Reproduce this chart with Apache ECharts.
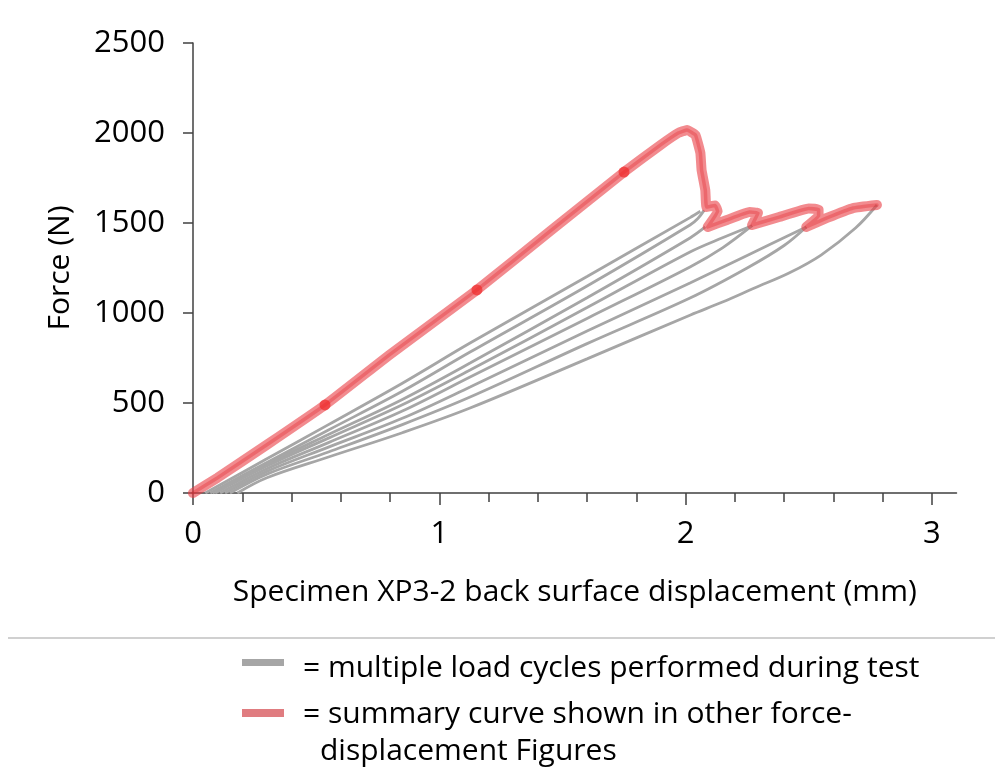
<!DOCTYPE html>
<html>
<head>
<meta charset="utf-8">
<script src="https://cdn.jsdelivr.net/npm/echarts@6/dist/echarts.min.js"></script>
<style>html,body{margin:0;padding:0;background:#fff;}#c{width:995px;height:770px;}</style>
</head>
<body>
<div id="c"></div>
<script>
// ---- data ----
const xTicks = [0, 1, 2, 3];
const yTicks = [0, 500, 1000, 1500, 2000, 2500];
const summaryCurve = [[0,0],[0.1,85],[0.3,268],[0.536,489],[0.8,770],[1.153,1128],[1.45,1455],[1.75,1783],[1.9,1935],[1.97,2000],[2.006,2017],[2.04,1989],[2.06,1889],[2.065,1794],[2.08,1683],[2.085,1589],[2.12,1597],[2.13,1565],[2.09,1478],[2.168,1517],[2.26,1561],[2.294,1555],[2.27,1489],[2.38,1533],[2.5,1580],[2.54,1575],[2.54,1540],[2.49,1478],[2.574,1528],[2.68,1583],[2.777,1600]];
const summaryDots = [[0.536,489],[1.153,1128],[1.75,1783]];
const cycle1 = [[0.05,0],[0.3,190],[0.55,380],[0.85,610],[1.125,833],[1.6,1203],[2.018,1530],[2.06,1565]];
const cycle2 = [[0.07,0],[0.3,170],[0.55,350],[0.85,565],[1.125,783],[1.6,1150],[2.018,1489],[2.05,1525],[2.075,1570]];
const cycle3 = [[0.08,0],[0.3,160],[0.55,325],[0.85,520],[1.125,722],[1.6,1085],[2.018,1417],[2.08,1478]];
const cycle4 = [[0.09,0],[0.3,150],[0.55,305],[0.85,490],[1.125,683],[1.6,1030],[2.018,1339],[2.15,1418],[2.27,1485]];
const cycle5 = [[0.11,0],[0.3,135],[0.55,280],[0.85,455],[1.125,644],[1.6,970],[2.018,1256],[2.15,1362],[2.27,1485]];
const cycle6 = [[0.13,0],[0.3,120],[0.55,255],[0.85,415],[1.125,589],[1.6,900],[2.018,1167],[2.25,1320],[2.49,1478]];
const cycle7 = [[0.15,0],[0.3,105],[0.55,228],[0.85,380],[1.125,533],[1.6,830],[2.018,1083],[2.25,1250],[2.4,1375],[2.49,1478]];
const cycle8 = [[0.18,0],[0.3,85],[0.55,200],[0.85,335],[1.125,472],[1.6,745],[2.02,989],[2.15,1061],[2.28,1139],[2.42,1222],[2.55,1322],[2.69,1472],[2.777,1600]];
const cycles = [cycle1, cycle2, cycle3, cycle4, cycle5, cycle6, cycle7, cycle8];
const xTitle = 'Specimen XP3-2 back surface displacement (mm)';
const yTitle = 'Force (N)';
const legendGray = '= multiple load cycles performed during test';
const legendRed1 = '= summary curve shown in other force-';
const legendRed2 = 'displacement Figures';

// ---- chart ----
const FONT = '"Open Sans", sans-serif';
const chart = echarts.init(document.getElementById('c'), null, {renderer: 'canvas'});
const series = cycles.map(c => ({
  type: 'line', data: c, smooth: 0.35, symbol: 'none',
  lineStyle: {color: '#a6a6a6', width: 2.8}, z: 2, silent: true
}));
series.push({
  type: 'line', data: summaryCurve, symbol: 'none', smooth: 0.1,
  lineStyle: {color: 'rgba(234,62,68,0.6)', width: 10, cap: 'round', join: 'round'}, z: 3, silent: true
});
series.push({
  type: 'line', data: summaryCurve, symbol: 'none', smooth: 0.1,
  lineStyle: {color: 'rgba(226,40,46,0.35)', width: 3.5, cap: 'round', join: 'round'}, z: 4, silent: true
});
series.push({
  type: 'scatter', data: summaryDots, symbolSize: 11,
  itemStyle: {color: 'rgba(240,40,40,0.85)'}, z: 5, silent: true
});

chart.setOption({
  animation: false,
  backgroundColor: '#fff',
  grid: {left: 193, top: 43, right: 38.5, bottom: 277, containLabel: false},
  xAxis: {
    type: 'value', min: 0, max: 3.1, interval: 1,
    axisLine: {lineStyle: {color: '#404040', width: 1.5}},
    axisTick: {show: true, length: 12, lineStyle: {color: '#404040', width: 1.5},
      customValues: xTicks},
    minorTick: {show: true, splitNumber: 5, length: 9, lineStyle: {color: '#404040', width: 1.5}},
    splitLine: {show: false},
    axisLabel: {fontFamily: FONT, fontSize: 31, color: '#000', margin: 26,
      customValues: xTicks, formatter: v => String(v)},
    name: xTitle, nameLocation: 'middle', nameGap: 84,
    nameTextStyle: {fontFamily: FONT, fontSize: 30, color: '#000'}
  },
  yAxis: {
    type: 'value', min: 0, max: 2500, interval: 500,
    axisLine: {show: true, lineStyle: {color: '#404040', width: 1.5}},
    axisTick: {show: true, length: 10, lineStyle: {color: '#404040', width: 1.5}},
    splitLine: {show: false},
    axisLabel: {fontFamily: FONT, fontSize: 31, color: '#000', margin: 28,
      customValues: yTicks, formatter: v => String(v)},
    name: yTitle, nameLocation: 'middle', nameGap: 118,
    nameTextStyle: {fontFamily: FONT, fontSize: 30, color: '#000'}
  },
  series: series,
  graphic: [
    {type: 'line', shape: {x1: 8, y1: 638, x2: 995, y2: 638}, style: {stroke: '#c0c0c0', lineWidth: 1.5}},
    {type: 'rect', shape: {x: 242, y: 659, width: 42, height: 7}, style: {fill: '#a6a6a6'}},
    {type: 'rect', shape: {x: 242, y: 709, width: 42, height: 8}, style: {fill: '#e07c80'}},
    {type: 'text', x: 303, y: 668, style: {text: legendGray, font: '30px ' + FONT, fill: '#000', textVerticalAlign: 'middle'}},
    {type: 'text', x: 303, y: 714, style: {text: legendRed1, font: '30px ' + FONT, fill: '#000', textVerticalAlign: 'middle'}},
    {type: 'text', x: 320, y: 751, style: {text: legendRed2, font: '30px ' + FONT, fill: '#000', textVerticalAlign: 'middle'}}
  ]
});
</script>
</body>
</html>
